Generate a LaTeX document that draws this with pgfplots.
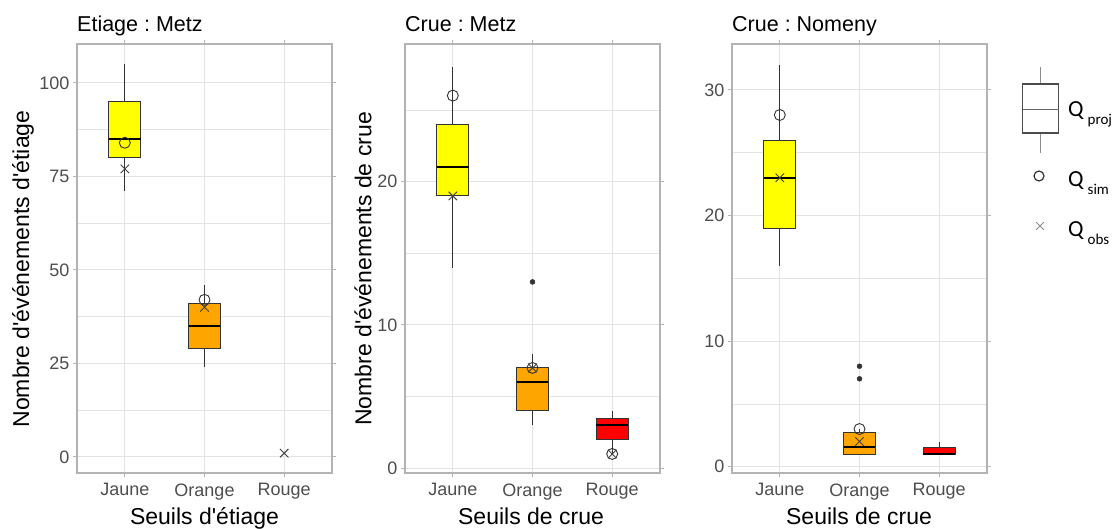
\documentclass[border=0pt]{standalone}
\usepackage{fontspec}
\setmainfont{Liberation Sans}
\newfontfamily\legfont{Carlito}
\usepackage{pgfplots}
\pgfplotsset{compat=1.18}
\usepgfplotslibrary{statistics}
\frenchspacing
\definecolor{gridc}{HTML}{E3E3E3}
\definecolor{borderc}{HTML}{B3B3B3}
\definecolor{tickc}{HTML}{4D4D4D}
\definecolor{boxedge}{HTML}{333333}
\definecolor{cjaune}{HTML}{FFFF00}
\definecolor{corange}{HTML}{FFA500}
\definecolor{crouge}{HTML}{FF0000}
\pgfplotsset{
  panel/.style={
    scale only axis, width=255pt, height=429pt, anchor=south west,
    xmin=0.4, xmax=3.6, xtick={1,2,3}, xticklabels={Jaune,Orange,Rouge},
    axis line style={borderc, line width=1.2pt},
    grid=both, major grid style={gridc, line width=1pt}, minor grid style={gridc, line width=0.6pt},
    tick align=outside, major tick length=4pt, minor tick length=0pt,
    tick style={borderc, line width=1pt},
    ticklabel style={font=\fontsize{18}{20}\selectfont, text=tickc},
    xticklabel style={yshift=-3pt},
    /pgf/number format/assume math mode=true,
    boxplot/draw direction=y,
    boxplot/every median/.style={black, line width=2pt},
    boxplot/every whisker/.style={boxedge, line width=1pt},
    boxplot/every box/.style={draw=boxedge, line width=1pt},
  },
  bp/.style={boxplot prepared={#1, box extend=0.4, whisker extend=0}, mark=*, mark size=2.5pt, mark options={fill=black!80, draw=black!80}},
  simm/.style={only marks, mark=o, mark size=5.5pt, mark options={draw=black!80, line width=0.9pt}},
  obsm/.style={only marks, mark=x, mark size=6pt, mark options={draw=black!75, line width=0.9pt}},
}
\begin{document}
\begin{tikzpicture}[x=1pt,y=1pt]
\path[use as bounding box] (0,0) rectangle (1118,528);
\clip (0,0) rectangle (1118,528);
% Panel 1
\begin{axis}[panel, at={(77pt,55pt)}, ymin=-4.3, ymax=110.4, ytick={0,25,50,75,100}, minor ytick={12.5,37.5,62.5,87.5}]
\addplot[bp={draw position=1, lower whisker=71, lower quartile=80, median=85, upper quartile=95, upper whisker=105}, fill=cjaune] coordinates {};
\addplot[bp={draw position=2, lower whisker=24, lower quartile=29, median=35, upper quartile=41, upper whisker=46}, fill=corange] coordinates {};
\addplot[simm] coordinates {(1,84) (2,42)};
\addplot[obsm] coordinates {(1,77) (2,40) (3,1)};
\end{axis}
% Panel 2
\begin{axis}[panel, at={(405pt,55pt)}, ymin=-0.33, ymax=29.6, ytick={0,10,20}, minor ytick={5,15,25}]
\addplot[bp={draw position=1, lower whisker=14, lower quartile=19, median=21, upper quartile=24, upper whisker=28}, fill=cjaune] coordinates {};
\addplot[bp={draw position=2, lower whisker=3, lower quartile=4, median=6, upper quartile=7, upper whisker=8}, fill=corange] table[row sep=\\, y index=0] {data\\ 13\\};
\addplot[bp={draw position=3, lower whisker=1, lower quartile=2, median=3, upper quartile=3.5, upper whisker=4}, fill=crouge] coordinates {};
\addplot[simm] coordinates {(1,26) (2,7) (3,1)};
\addplot[obsm] coordinates {(1,19) (2,7) (3,1)};
\end{axis}
% Panel 3
\begin{axis}[panel, at={(732pt,55pt)}, ymin=-0.5, ymax=33.65, ytick={0,10,20,30}, minor ytick={5,15,25}]
\addplot[bp={draw position=1, lower whisker=16, lower quartile=19, median=23, upper quartile=26, upper whisker=32}, fill=cjaune] coordinates {};
\addplot[bp={draw position=2, lower whisker=1, lower quartile=1, median=1.6, upper quartile=2.75, upper whisker=3}, fill=corange] table[row sep=\\, y index=0] {data\\ 7\\ 8\\};
\addplot[bp={draw position=3, lower whisker=1, lower quartile=1, median=1, upper quartile=1.5, upper whisker=2}, fill=crouge] coordinates {};
\addplot[simm] coordinates {(1,28) (2,3)};
\addplot[obsm] coordinates {(1,23) (2,2)};
\end{axis}
% Legend axis
\begin{axis}[at={(1000pt,278pt)}, anchor=south west, scale only axis, width=118pt, height=200pt,
  xmin=0, xmax=118, ymin=0, ymax=200, hide axis, clip=false,
  boxplot/draw direction=y,
  boxplot/every median/.style={black!60, line width=1pt},
  boxplot/every whisker/.style={black!45, line width=1.2pt},
  boxplot/every box/.style={draw=black!70, line width=1.5pt}]
\addplot[boxplot prepared={draw position=40.5, lower whisker=97, lower quartile=117, median=140, upper quartile=166, upper whisker=183, box extend=36, whisker extend=0}, fill=white] coordinates {};
\addplot[only marks, mark=o, mark size=5pt, mark options={draw=black!80, line width=1.2pt}] coordinates {(39,74)};
\addplot[only marks, mark=x, mark size=5.5pt, mark options={draw=black!45, line width=0.9pt}] coordinates {(40,24)};
\node[anchor=base west, inner sep=0pt] at (axis cs:68,133) {\legfont\fontsize{23}{25}\selectfont Q\hspace{4pt}\raisebox{-8pt}{\fontsize{15}{16}\selectfont proj}};
\node[anchor=base west, inner sep=0pt] at (axis cs:68,63) {\legfont\fontsize{23}{25}\selectfont Q\hspace{4pt}\raisebox{-8pt}{\fontsize{15}{16}\selectfont sim}};
\node[anchor=base west, inner sep=0pt] at (axis cs:68,13) {\legfont\fontsize{23}{25}\selectfont Q\hspace{4pt}\raisebox{-8pt}{\fontsize{15}{16}\selectfont obs}};
\end{axis}
% Titles and labels
\node[anchor=base west, inner sep=0pt, font=\fontsize{21.5}{23}\selectfont] at (77,496) {Etiage : Metz};
\node[anchor=base west, inner sep=0pt, font=\fontsize{21.5}{23}\selectfont] at (405,496) {Crue : Metz};
\node[anchor=base west, inner sep=0pt, font=\fontsize{21.5}{23}\selectfont] at (732,496) {Crue : Nomeny};
\node[rotate=90, inner sep=0pt, font=\fontsize{23}{25}\selectfont] at (23,259) {Nombre d\textquotesingle événements d\textquotesingle étiage};
\node[rotate=90, inner sep=0pt, font=\fontsize{23}{25}\selectfont] at (363,259) {Nombre d\textquotesingle événements de crue};
\node[anchor=base, inner sep=0pt, font=\fontsize{23}{25}\selectfont] at (204.5,4) {Seuils d\textquotesingle étiage};
\node[anchor=base, inner sep=0pt, font=\fontsize{23}{25}\selectfont] at (531,4) {Seuils de crue};
\node[anchor=base, inner sep=0pt, font=\fontsize{23}{25}\selectfont] at (859,4) {Seuils de crue};
\end{tikzpicture}
\end{document}
